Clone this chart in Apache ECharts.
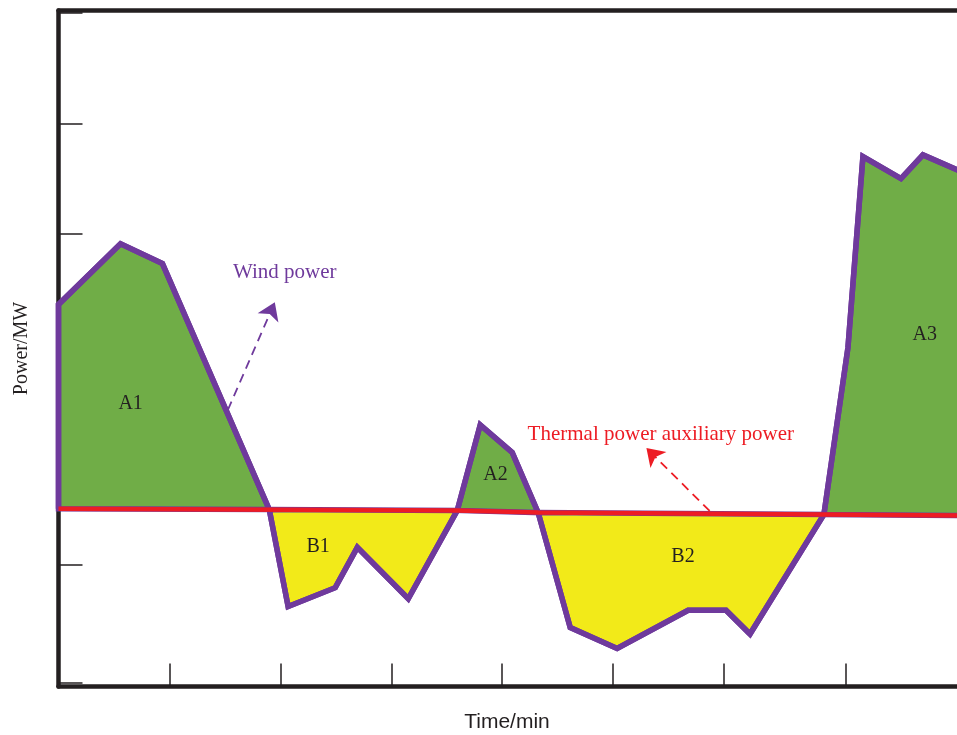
<!DOCTYPE html>
<html>
<head>
<meta charset="utf-8">
<script src="https://cdn.jsdelivr.net/npm/echarts@6/dist/echarts.min.js"></script>
<style>
html,body{margin:0;padding:0;background:#fff;}
#chart{width:957px;height:735px;}
</style>
</head>
<body>
<div id="chart"></div>
<script>
// wind power curve [time/min, power/MW]
var windPower = [
    [0, 0.2], [0, 37.2], [5.59, 48.2], [9.37, 44.6], [19.0, 0.05],
    [20.7, -17.5], [24.95, -14.1], [26.94, -6.8], [31.53, -16.1], [35.95, -0.1],
    [38.02, 15.4], [40.9, 10.4], [43.24, -0.5],
    [46.13, -21.3], [50.36, -25.1], [56.76, -18.2], [60.18, -18.2], [62.34, -22.5], [69.0, -0.85],
    [71.17, 29.4], [72.52, 64.0], [75.95, 60.0], [77.93, 64.3], [80.99, 61.6], [84, 59.5], [84, -1.05]
];
// thermal power auxiliary power
var thermalPower = [[0, 0.2], [35.95, -0.1], [43.24, -0.5], [69.0, -0.85], [84, -1.05], [90, -1.1]];

// areas between the two curves: index in windPower where each one starts / ends
var regionNames = ['A1', 'B1', 'A2', 'B2', 'A3'];
var regionBreaks = [0, 4, 9, 12, 18, 25];
var regionLabelPos = [[6.5, 19.2], [23.4, -6.6], [39.4, 6.3], [56.3, -8.5], [78.1, 31.7]];

var xTicks = [10, 20, 30, 40, 50, 60, 71];
var yTicks = [-31.3, -10, 10, 30, 50, 70, 90];

var PURPLE = '#6f3a9c';
var RED = '#ed1c24';
var GREEN = '#70ad47';
var YELLOW = '#f2ea19';
var BLACK = '#231f20';
var SERIF = '"Liberation Serif", "DejaVu Serif", serif';

function renderAreas(params, api){
    var i = params.dataIndex;
    var pts = windPower.slice(regionBreaks[i], regionBreaks[i + 1] + 1).map(function(p){
        return api.coord(p);
    });
    return {
        type: 'polygon',
        shape: {points: pts},
        style: {
            fill: regionNames[i].charAt(0) === 'A' ? GREEN : YELLOW,
            stroke: PURPLE,
            lineWidth: 5.5,
            lineJoin: 'miter'
        }
    };
}

var labelData = regionNames.map(function(n, i){
    return {value: regionLabelPos[i], label: {formatter: n}};
});

var axisBlack = {show: true, onZero: false, lineStyle: {color: BLACK, width: 4.5}};

var chart = echarts.init(document.getElementById('chart'));
chart.setOption({
    animation: false,
    grid: {left: 58.5, top: 10.5, right: 0, bottom: 48.5, outerBoundsMode: 'none', containLabel: false},
    xAxis: [{
        type: 'value', min: 0, max: 81, position: 'bottom',
        splitLine: {show: false},
        axisLine: axisBlack,
        axisLabel: {show: false},
        axisTick: {show: true, inside: true, length: 23, customValues: xTicks,
            lineStyle: {color: BLACK, width: 1.5}}
    }, {
        // top frame line
        type: 'value', min: 0, max: 81, position: 'top',
        splitLine: {show: false},
        axisLine: axisBlack,
        axisLabel: {show: false},
        axisTick: {show: false}
    }],
    yAxis: {
        type: 'value', min: -32, max: 90.45,
        name: 'Power/MW', nameLocation: 'middle', nameGap: 27,
        nameTextStyle: {fontFamily: SERIF, fontSize: 20, color: BLACK},
        splitLine: {show: false},
        axisLine: axisBlack,
        axisLabel: {show: false},
        axisTick: {show: true, inside: true, length: 24, customValues: yTicks,
            lineStyle: {color: BLACK, width: 1.5}}
    },
    graphic: [{
        type: 'text', x: 507, y: 722,
        style: {text: 'Time/min', fill: BLACK, font: '21px "Liberation Sans", Arial, sans-serif',
            align: 'center', verticalAlign: 'middle'}
    }],
    series: [
        {
            type: 'custom',
            z: 2,
            renderItem: renderAreas,
            data: regionNames.map(function(n, i){ return [i, 0]; })
        },
        {
            name: 'Wind power',
            type: 'line',
            z: 3,
            data: windPower,
            showSymbol: false,
            symbol: 'none',
            lineStyle: {color: PURPLE, width: 5.5, join: 'miter'},
            markLine: {
                silent: true,
                symbol: ['none', 'arrow'],
                symbolSize: 17,
                label: {show: false},
                lineStyle: {color: PURPLE, width: 1.8, type: [9, 6]},
                data: [[{coord: [15.27, 18.1]}, {coord: [19.5, 37.6]}]]
            }
        },
        {
            name: 'Thermal power auxiliary power',
            type: 'line',
            z: 4,
            data: thermalPower,
            showSymbol: false,
            symbol: 'none',
            lineStyle: {color: RED, width: 4.5},
            markLine: {
                silent: true,
                symbol: ['none', 'arrow'],
                symbolSize: 17,
                label: {show: false},
                lineStyle: {color: RED, width: 1.8, type: [9, 6]},
                data: [[{coord: [58.7, -0.2]}, {coord: [53.0, 11.2]}]]
            }
        },
        {
            type: 'scatter',
            z: 5,
            symbolSize: 0,
            silent: true,
            itemStyle: {opacity: 1},
            label: {show: true, position: 'inside', fontFamily: SERIF, fontSize: 20, color: BLACK,
                opacity: 1, textBorderWidth: 0, textBorderColor: 'transparent'},
            data: labelData.concat([
                {value: [20.4, 43.0], label: {formatter: 'Wind power', color: PURPLE, fontSize: 21}},
                {value: [54.3, 13.7], label: {formatter: 'Thermal power auxiliary power', color: RED, fontSize: 21}}
            ])
        }
    ]
});
</script>
</body>
</html>
